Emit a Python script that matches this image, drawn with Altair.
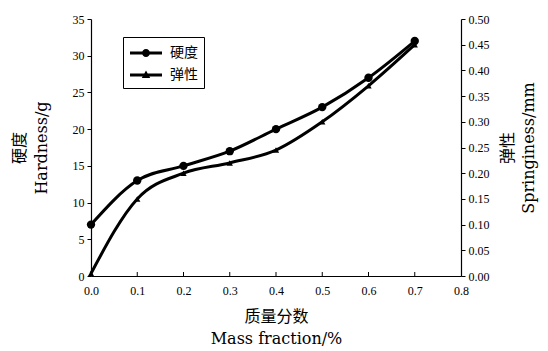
import altair as alt
import pandas as pd

# ---- data ----
mass_fraction = [0.0, 0.1, 0.2, 0.3, 0.4, 0.5, 0.6, 0.7]
hardness = [7, 13, 15, 17, 20, 23, 27, 32]
springiness = [0.005, 0.15, 0.20, 0.22, 0.245, 0.30, 0.37, 0.45]
series_names = ["硬度", "弹性"]
x_tick_values = [0.0, 0.1, 0.2, 0.3, 0.4, 0.5, 0.6, 0.7, 0.8]
inner_x_ticks = [0.1, 0.2, 0.3, 0.4, 0.5, 0.6, 0.7]
left_tick_values = [0, 5, 10, 15, 20, 25, 30, 35]
right_tick_values = [0.0, 0.05, 0.10, 0.15, 0.20, 0.25, 0.30, 0.35, 0.40, 0.45, 0.50]

df_h = pd.DataFrame({"x": mass_fraction, "y": hardness, "series": series_names[0]})
df_s = pd.DataFrame({"x": mass_fraction, "y": springiness, "series": series_names[1]})
df_ticks = pd.DataFrame({"x": inner_x_ticks})
df_legend = pd.DataFrame({"series": series_names})

W, H = 370, 257
TITLE_FONT = "'DejaVu Serif', 'Noto Sans CJK SC', serif"
NUM_FONT = "'Liberation Serif', serif"

x_enc = alt.X(
    "x:Q",
    scale=alt.Scale(domain=[0, 0.8], nice=False, zero=False),
    axis=alt.Axis(
        values=x_tick_values, format=".1f", ticks=False, grid=False, labelFlush=False,
        labelPadding=9, labelFont=NUM_FONT, labelFontSize=12, labelColor="black",
        domainColor="black", domainWidth=1.2,
        title=["质量分数", "Mass fraction/%"], titleFont=TITLE_FONT, titleFontSize=16,
        titleFontWeight="normal", titleColor="black", titleY=32, titleBaseline="top",
        titleLineHeight=22,
    ),
)

y_left = alt.Y(
    "y:Q",
    scale=alt.Scale(domain=[0, 35], nice=False),
    axis=alt.Axis(
        orient="left", values=left_tick_values, format="d", grid=False,
        tickSize=4, tickColor="black", labelPadding=3, labelFont=NUM_FONT,
        labelFontSize=12, labelColor="black", domainColor="black", domainWidth=1.2,
        title=["硬度", "Hardness/g"], titleFont=TITLE_FONT, titleFontSize=16,
        titleFontWeight="normal", titleColor="black", titleAngle=270,
        titleBaseline="bottom", titleX=-64, titleLineHeight=22,
    ),
)

y_right = alt.Y(
    "y:Q",
    scale=alt.Scale(domain=[0, 0.5], nice=False),
    axis=alt.Axis(
        orient="right", values=right_tick_values, format=".2f", grid=False,
        tickSize=4, tickColor="black", labelPadding=3, labelFont=NUM_FONT,
        labelFontSize=12, labelColor="black", domainColor="black", domainWidth=1.2,
        title=["弹性", "Springiness/mm"], titleFont=TITLE_FONT, titleFontSize=16,
        titleFontWeight="normal", titleColor="black", titleAngle=270,
        titleBaseline="top", titleX=38, titleLineHeight=21,
    ),
)

h_line = alt.Chart(df_h).mark_line(interpolate="monotone", strokeWidth=3, color="black").encode(x=x_enc, y=y_left)
h_pts = alt.Chart(df_h).mark_point(shape="circle", filled=True, size=70, color="black", opacity=1).encode(x=x_enc, y=y_left)
x_ticks = alt.Chart(df_ticks).mark_rule(color="black", strokeWidth=1).encode(
    x=x_enc, y=alt.value(H), y2=alt.value(H - 4)
)
left = alt.layer(h_line, h_pts, x_ticks)

s_line = alt.Chart(df_s).mark_line(interpolate="monotone", strokeWidth=3, color="black").encode(x=x_enc, y=y_right)
s_pts = alt.Chart(df_s).mark_point(shape="triangle-up", filled=True, size=40, color="black", opacity=1).encode(x=x_enc, y=y_right)
right = alt.layer(s_line, s_pts)

circle_path = "M-1.6,-0.15H1.6V0.15H-1.6Z M0.4,0A0.4,0.4,0,1,1,-0.4,0A0.4,0.4,0,1,1,0.4,0Z"
tri_path = "M-1.6,-0.15H1.6V0.15H-1.6Z M0,-0.45L0.42,0.3L-0.42,0.3Z"

legend_layer = alt.Chart(df_legend).transform_filter("false").mark_point(
    filled=True, color="black", opacity=1
).encode(
    shape=alt.Shape(
        "series:N",
        scale=alt.Scale(domain=series_names, range=[circle_path, tri_path]),
        legend=alt.Legend(
            title=None, orient="none", legendX=32, legendY=18, padding=6,
            strokeColor="black", fillColor="white", symbolSize=400,
            symbolStrokeWidth=0, symbolFillColor="black", symbolOffset=7,
            labelOffset=14, rowPadding=5, labelFont=TITLE_FONT, labelFontSize=14,
            labelColor="black",
        ),
    )
)

chart = (
    alt.layer(right, left, legend_layer)
    .resolve_scale(y="independent")
    .properties(
        width=W, height=H,
        autosize=alt.AutoSizeParams(type="none"),
        padding={"left": 83, "top": 11, "right": 79, "bottom": 72},
        background="white",
    )
    .configure_view(stroke=None)
)

chart.save("out.html", embed_options={"renderer": "svg", "actions": False})
